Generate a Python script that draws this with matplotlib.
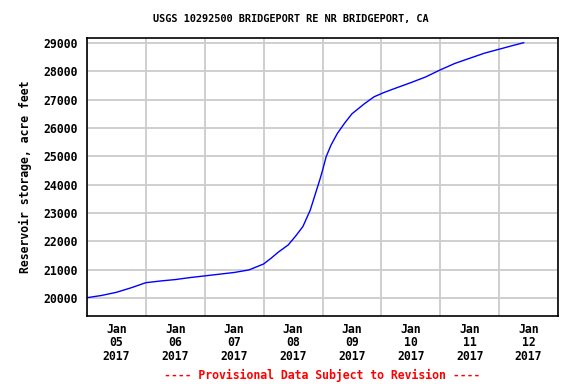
import datetime as dt
import matplotlib
matplotlib.use("Agg")
from matplotlib import pyplot as plt
import matplotlib.dates as mdates

# reservoir storage readings: hours after Jan 05 2017 00:00, acre feet
hours = [0, 6, 12, 18, 24, 30, 36, 42, 48, 54, 60, 66, 72, 75, 78, 82,
         85, 88, 91, 93, 95, 96, 97.5, 99.5, 102, 105, 108, 113, 117, 121,
         125, 132, 138, 144, 150, 156, 162, 168, 174, 178]
storage = [20010, 20090, 20200, 20360, 20540, 20600, 20650, 20720, 20780,
           20840, 20900, 20990, 21200, 21400, 21620, 21870, 22180, 22520,
           23100, 23650, 24200, 24500, 24990, 25400, 25800, 26170, 26500,
           26850, 27100, 27250, 27380, 27600, 27800, 28050, 28280, 28460,
           28640, 28780, 28920, 29010]
title = "USGS 10292500 BRIDGEPORT RE NR BRIDGEPORT, CA"
ylabel = "Reservoir storage, acre feet"
footer = "---- Provisional Data Subject to Revision ----"

start = dt.datetime(2017, 1, 5)
times = [start + dt.timedelta(hours=h) for h in hours]

font = "DejaVu Sans Mono"
fig = plt.figure(figsize=(5.76, 3.84), dpi=100)
ax = fig.add_axes([87 / 576, 68 / 384, 471 / 576, 278 / 384])

ax.plot(times, storage, color="blue", lw=1.0)

ax.set_xlim(start, start + dt.timedelta(days=8))
ax.set_ylim(19364, 29176)

ax.xaxis.set_major_locator(mdates.DayLocator())
ax.xaxis.set_major_formatter(plt.NullFormatter())
ax.xaxis.set_minor_locator(mdates.HourLocator(byhour=[12]))
ax.xaxis.set_minor_formatter(mdates.DateFormatter("%b\n%d\n%Y"))
ax.set_yticks(range(20000, 29001, 1000))

ax.grid(True, which="major", color="#cccccc", lw=1.3)
ax.set_axisbelow(True)
ax.tick_params(which="both", length=0)
ax.tick_params(axis="y", pad=6.5)
ax.tick_params(axis="x", which="minor", pad=5)
for lab in ax.get_yticklabels() + ax.get_xticklabels(minor=True):
    lab.set_fontfamily(font)
    lab.set_fontweight("bold")
    lab.set_fontsize(8.3)
    lab.set_linespacing(1.05)
for s in ax.spines.values():
    s.set_linewidth(1.2)

ax.set_ylabel(ylabel, fontfamily=font, fontweight="bold", fontsize=8.3, labelpad=8)
fig.text(0.505, 0.95, title, ha="center", va="center", fontfamily=font,
         fontweight="bold", fontsize=7.4)
fig.text(322 / 576, 1 - 375 / 384, footer, ha="center", va="center",
         fontfamily=font, fontweight="bold", fontsize=8.3, color="red")

fig.savefig("out.png", dpi=100)
